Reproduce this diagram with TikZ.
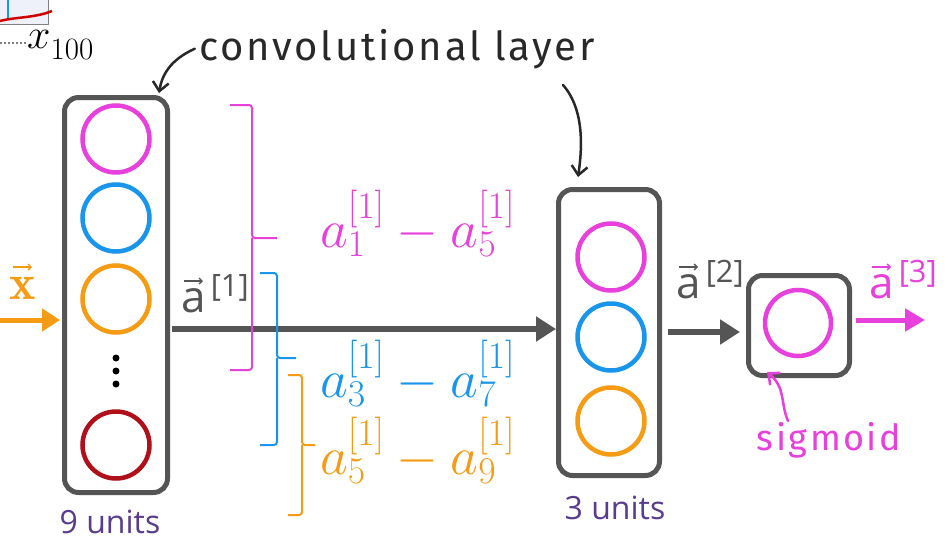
\RequirePackage{fix-cm}
\documentclass[tikz,border=0pt]{standalone}
\usepackage{amsmath}
\usepackage{fontspec}
\setsansfont{Open Sans}
\newfontfamily\handfont[LetterSpace=7]{Fira Sans}
\usetikzlibrary{arrows.meta}
\definecolor{mag}{RGB}{232,64,220}
\definecolor{cblue}{RGB}{25,150,235}
\definecolor{corange}{RGB}{245,155,20}
\definecolor{cdred}{RGB}{176,16,26}
\definecolor{boxgray}{RGB}{85,85,85}
\definecolor{upurple}{RGB}{90,60,142}
\definecolor{ink}{RGB}{40,40,40}
\definecolor{paleblue}{RGB}{238,240,250}
\newcommand{\av}[1]{\sffamily a$^{\,\text{\sffamily[#1]}}$}
\begin{document}
\begin{tikzpicture}[x=1pt,y=-1pt,
 layerbox/.style={draw=boxgray,line width=5pt,rounded corners=14pt,minimum width=101pt,inner sep=0pt},
 unit/.style={circle,draw=#1,line width=4.5pt,minimum size=67pt,inner sep=0pt},
 conn/.style={draw=boxgray,line width=6pt,-{Triangle[length=20pt,width=24pt]}},
 hand/.style={draw=ink,line width=2.5pt,line cap=round,-{Straight Barb[length=9pt,width=16pt]}},
 vecarrow/.style={line width=1.3pt,-{Straight Barb[length=3pt,width=6pt]}},
 brace/.style={line width=2pt,rounded corners=3pt},
 unitlabel/.style={text=upurple,font=\sffamily\fontsize{32}{36}\selectfont,anchor=base,inner sep=0pt},
 veclabel/.style={font=\fontsize{44}{48}\selectfont,anchor=base west,inner sep=0pt},
 rangelabel/.style={font=\fontsize{54}{58}\selectfont,anchor=base west,inner sep=0pt},
]
\useasboundingbox (0,0) rectangle (951,546);
\fill[white] (0,0) rectangle (951,546);

% top-left fragment
\fill[paleblue] (-2,-2) rectangle (48,24);
\draw[gray,line width=1pt] (48,-2) -- (48,24) -- (-2,24);
\draw[cblue,line width=1.5pt] (8,-2) -- (8,18);
\draw[red!80!black,line width=2.5pt] (0,21) .. controls (15,17) and (35,18) .. (52,11);
\draw[gray,dotted,line width=2pt] (0,43) -- (26,43);
\node[font=\fontsize{42}{44}\selectfont,anchor=base west,inner sep=0pt] (x100) at (27,48) {$x$\lower12pt\hbox{\fontsize{31}{32}\selectfont 100}};

% left layer
\node[layerbox,minimum width=103pt,minimum height=395pt] (L) at (116,295) {};
\node[unit=mag] (L1) at (116,139) {};
\node[unit=cblue] (L2) at (116,218) {};
\node[unit=corange] (L3) at (116,299) {};
\node[unit=cdred] (L9) at (116,445) {};
\fill[black] (116,358) circle (3.5) (116,371) circle (3.5) (116,384) circle (3.5);

% middle layer
\node[layerbox,minimum height=286pt] (M) at (609,332.5) {};
\node[unit=mag] (M1) at (611,257) {};
\node[unit=cblue] (M2) at (611,337) {};
\node[unit=corange] (M3) at (611,421) {};

% sigmoid unit
\node[layerbox,minimum height=100pt] (S) at (799,325.5) {};
\node[unit=mag,minimum size=66pt] (S1) at (798,323) {};

% arrows
\coordinate (xin) at (0,320);
\draw[line width=5pt,corange,-{Triangle[length=18pt,width=22pt]},shorten >=2pt] (xin) -- (xin -| L.west);
\coordinate (mainy) at (0,329);
\draw[conn,shorten <=2pt] (L.east |- mainy) -- (M.west |- mainy);
\coordinate (y2) at (0,332);
\draw[conn,shorten <=6pt,shorten >=6pt] (M.east |- y2) -- (S.west |- y2);
\coordinate (out) at (925,320);
\draw[mag,line width=5pt,-{Triangle[length=20pt,width=22pt]},shorten <=4pt] (S.east |- out) -- (out);

% braces
\draw[brace,mag] (230,105) -- (252,105) -- (252,238) -- (277,238);
\draw[brace,mag] (252,238) -- (252,370) -- (230,370);
\draw[brace,cblue] (260,273) -- (277,273) -- (277,358) -- (296,358);
\draw[brace,cblue] (277,358) -- (277,445) -- (260,445);
\draw[brace,corange] (288,375) -- (302,375) -- (302,445) -- (315,445);
\draw[brace,corange] (302,445) -- (302,515) -- (288,515);

% range labels
\node[rangelabel,text=mag] (r1) at (320,247) {$a_1^{[1]}-a_5^{[1]}$};
\node[rangelabel,text=cblue] (r2) at (320,397) {$a_3^{[1]}-a_7^{[1]}$};
\node[rangelabel,text=corange] (r3) at (320,474) {$a_5^{[1]}-a_9^{[1]}$};

% vector labels
\node[veclabel,text=boxgray] (a1) at (181,312) {\av{1}};
\node[veclabel,text=boxgray] (a2) at (676,298) {\av{2}};
\node[veclabel,text=mag] (a3) at (869,298) {\av{3}};
\draw[vecarrow,boxgray] ([xshift=3pt,yshift=31pt]a1.base west) -- ++(19,0);
\draw[vecarrow,boxgray] ([xshift=3pt,yshift=31pt]a2.base west) -- ++(19,0);
\draw[vecarrow,mag] ([xshift=3pt,yshift=31pt]a3.base west) -- ++(19,0);
\node[font=\fontsize{50}{54}\selectfont,anchor=base west,inner sep=0pt,text=corange] (xl) at (9,299) {$\mathbf{x}$};
\draw[vecarrow,corange] ([xshift=4pt,yshift=32pt]xl.base west) -- ++(19,0);

% unit counts
\node[unitlabel] (u9) at (110,533) {9 units};
\node[unitlabel] (u3) at (615,519) {3 units};

% handwritten annotations
\node[font=\handfont\fontsize{40}{44}\selectfont,text=ink,anchor=base,inner sep=0pt] (conv) at (397,60) {convolutional layer};
\node[font=\handfont\fontsize{36}{40}\selectfont,text=mag,anchor=base,inner sep=0pt] (sig) at (829,450) {sigmoid};
\draw[hand] ([xshift=-4pt]conv.west) .. controls (170,60) and (162,75) .. ([xshift=-11pt,yshift=2pt]L.north east);
\coordinate (lay) at (563,85);
\draw[hand] (lay) .. controls (585,110) and (582,150) .. ([xshift=-31pt,yshift=10pt]M.north);
\coordinate (sgs) at (788,421);
\draw[hand,draw=mag] (sgs) .. controls (780,402) and (786,388) .. ([xshift=-32pt,yshift=6pt]S.south);
\end{tikzpicture}
\end{document}
